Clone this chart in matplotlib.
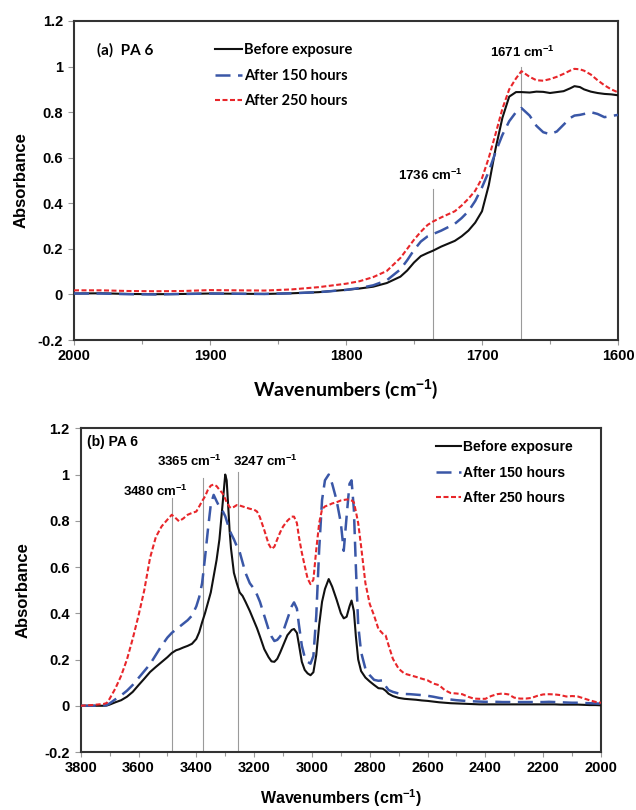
import matplotlib
matplotlib.use("Agg")
import matplotlib.pyplot as plt
from matplotlib.ticker import MultipleLocator, FuncFormatter

plt.rcParams['font.family'] = ['Liberation Sans', 'DejaVu Sans']
plt.rcParams['font.weight'] = 'bold'
plt.rcParams['axes.unicode_minus'] = False
plt.rcParams['mathtext.fontset'] = 'custom'
plt.rcParams['mathtext.rm'] = 'Liberation Sans:bold'
plt.rcParams['mathtext.it'] = 'Liberation Sans:bold'
plt.rcParams['mathtext.bf'] = 'Liberation Sans:bold'
plt.rcParams['mathtext.default'] = 'rm'

# ---------------- data: panel (a) 2000-1600 cm-1 ----------------
wn_a = [2000, 1980, 1960, 1940, 1920, 1900, 1880, 1860, 1840, 1820, 1800, 1790, 1780,
        1770, 1760, 1755, 1750, 1745, 1740, 1736, 1730, 1720, 1715, 1710, 1705, 1700,
        1695, 1690, 1685, 1680, 1675, 1671, 1665, 1660, 1655, 1650, 1645, 1640, 1635,
        1632, 1628, 1625, 1620, 1615, 1610, 1605, 1600]
before_a = [0.004, 0.005, 0.002, 0.001, 0.002, 0.004, 0.003, 0.002, 0.005, 0.010, 0.020,
            0.026, 0.034, 0.050, 0.078, 0.105, 0.140, 0.168, 0.182, 0.192, 0.210, 0.235,
            0.255, 0.280, 0.315, 0.365, 0.480, 0.640, 0.775, 0.868, 0.888, 0.888, 0.886,
            0.890, 0.889, 0.884, 0.888, 0.892, 0.905, 0.914, 0.910, 0.900, 0.890, 0.884,
            0.880, 0.878, 0.874]
h150_a = [0.004, 0.004, 0.001, 0.000, 0.002, 0.004, 0.003, 0.002, 0.005, 0.010, 0.020,
          0.028, 0.040, 0.062, 0.110, 0.150, 0.195, 0.232, 0.255, 0.265, 0.280, 0.310,
          0.335, 0.365, 0.410, 0.470, 0.540, 0.625, 0.700, 0.760, 0.800, 0.818, 0.785,
          0.740, 0.712, 0.703, 0.715, 0.745, 0.775, 0.785, 0.788, 0.792, 0.800, 0.792,
          0.778, 0.783, 0.788]
h250_a = [0.018, 0.018, 0.015, 0.014, 0.015, 0.019, 0.018, 0.017, 0.022, 0.032, 0.047,
          0.058, 0.076, 0.103, 0.160, 0.200, 0.240, 0.275, 0.305, 0.320, 0.338, 0.365,
          0.390, 0.420, 0.455, 0.510, 0.600, 0.705, 0.815, 0.900, 0.948, 0.980, 0.955,
          0.940, 0.938, 0.945, 0.955, 0.968, 0.983, 0.990, 0.988, 0.982, 0.965, 0.940,
          0.918, 0.900, 0.887]

# ---------------- data: panel (b) 3800-2000 cm-1 ----------------
wn_b = [3800, 3760, 3720, 3710, 3700, 3680, 3660, 3640, 3620, 3600, 3580, 3560, 3540,
        3520, 3500, 3485, 3470, 3460, 3445, 3430, 3415, 3400, 3390, 3380, 3370, 3360,
        3350, 3340, 3330, 3320, 3310, 3300, 3295, 3290, 3285, 3280, 3270, 3260, 3250,
        3240, 3230, 3215, 3200, 3190, 3180, 3165, 3150, 3140, 3130, 3120, 3110, 3100,
        3085, 3070, 3062, 3052, 3045, 3035, 3025, 3015, 3005, 2995, 2985, 2975, 2965,
        2955, 2942, 2930, 2915, 2900, 2890, 2880, 2870, 2863, 2855, 2848, 2840, 2830,
        2815, 2800, 2785, 2770, 2755, 2745, 2735, 2720, 2700, 2680, 2660, 2640, 2620,
        2600, 2580, 2560, 2540, 2520, 2500, 2480, 2460, 2440, 2420, 2400, 2380, 2360,
        2340, 2320, 2300, 2280, 2260, 2240, 2220, 2200, 2180, 2160, 2140, 2120, 2100,
        2080, 2060, 2040, 2020, 2000]
before_b = [0.000, 0.000, 0.000, 0.001, 0.005, 0.015, 0.024, 0.039, 0.060, 0.089, 0.117,
            0.146, 0.168, 0.189, 0.210, 0.228, 0.240, 0.244, 0.252, 0.259, 0.268, 0.289,
            0.318, 0.361, 0.400, 0.445, 0.490, 0.560, 0.630, 0.720, 0.860, 1.000, 0.975,
            0.870, 0.760, 0.680, 0.575, 0.530, 0.490, 0.475, 0.450, 0.410, 0.365, 0.335,
            0.300, 0.245, 0.210, 0.192, 0.190, 0.203, 0.230, 0.260, 0.305, 0.328, 0.332,
            0.315, 0.265, 0.190, 0.155, 0.140, 0.132, 0.145, 0.220, 0.350, 0.450, 0.505,
            0.548, 0.515, 0.460, 0.400, 0.378, 0.385, 0.430, 0.455, 0.410, 0.300, 0.200,
            0.150, 0.122, 0.105, 0.090, 0.076, 0.074, 0.065, 0.052, 0.042, 0.034, 0.030,
            0.028, 0.026, 0.023, 0.021, 0.018, 0.015, 0.013, 0.011, 0.010, 0.009, 0.008,
            0.007, 0.006, 0.006, 0.006, 0.006, 0.006, 0.006, 0.006, 0.006, 0.006, 0.006,
            0.006, 0.006, 0.006, 0.006, 0.005, 0.005, 0.005, 0.005, 0.004, 0.003, 0.003,
            0.002]
h150_b = [0.000, 0.000, 0.001, 0.003, 0.010, 0.028, 0.045, 0.065, 0.090, 0.120, 0.150,
          0.180, 0.220, 0.260, 0.295, 0.315, 0.330, 0.340, 0.355, 0.370, 0.390, 0.430,
          0.470, 0.530, 0.640, 0.760, 0.870, 0.912, 0.885, 0.860, 0.845, 0.820, 0.800,
          0.780, 0.765, 0.745, 0.720, 0.690, 0.665, 0.620, 0.575, 0.530, 0.505, 0.480,
          0.450, 0.390, 0.330, 0.300, 0.280, 0.285, 0.300, 0.320, 0.375, 0.430, 0.447,
          0.420, 0.350, 0.260, 0.210, 0.190, 0.182, 0.215, 0.390, 0.676, 0.890, 0.975,
          1.000, 0.960, 0.890, 0.790, 0.670, 0.820, 0.960, 0.975, 0.850, 0.600, 0.350,
          0.232, 0.160, 0.132, 0.112, 0.108, 0.110, 0.085, 0.068, 0.060, 0.053, 0.051,
          0.050, 0.048, 0.046, 0.043, 0.039, 0.034, 0.030, 0.027, 0.024, 0.022, 0.020,
          0.019, 0.018, 0.017, 0.017, 0.017, 0.016, 0.016, 0.016, 0.016, 0.016, 0.016,
          0.016, 0.016, 0.017, 0.016, 0.015, 0.014, 0.013, 0.013, 0.012, 0.011, 0.010,
          0.009]
h250_b = [0.000, 0.003, 0.008, 0.012, 0.030, 0.075, 0.130, 0.200, 0.290, 0.390, 0.500,
          0.640, 0.730, 0.776, 0.805, 0.826, 0.810, 0.798, 0.810, 0.826, 0.834, 0.840,
          0.862, 0.885, 0.905, 0.934, 0.952, 0.957, 0.950, 0.934, 0.920, 0.895, 0.880,
          0.870, 0.860, 0.855, 0.860, 0.868, 0.866, 0.862, 0.858, 0.852, 0.848, 0.840,
          0.815, 0.760, 0.700, 0.678, 0.688, 0.720, 0.750, 0.775, 0.800, 0.818, 0.818,
          0.790, 0.730, 0.662, 0.605, 0.550, 0.526, 0.545, 0.676, 0.790, 0.850, 0.862,
          0.868, 0.875, 0.880, 0.888, 0.890, 0.892, 0.892, 0.888, 0.880, 0.840, 0.790,
          0.690, 0.530, 0.440, 0.390, 0.332, 0.312, 0.304, 0.262, 0.203, 0.160, 0.139,
          0.132, 0.125, 0.117, 0.110, 0.096, 0.089, 0.067, 0.055, 0.053, 0.050, 0.039,
          0.031, 0.030, 0.030, 0.042, 0.050, 0.053, 0.049, 0.035, 0.031, 0.031, 0.034,
          0.043, 0.049, 0.050, 0.049, 0.046, 0.040, 0.042, 0.040, 0.032, 0.024, 0.017,
          0.013]

labels = ["Before exposure", "After 150 hours", "After 250 hours"]

# marker lines (position, top) and annotation texts
vlines_a = [1736, 1671]
vtops_a = [0.463, 1.0]
ann_a = ["1736 cm$^{-1}$", "1671 cm$^{-1}$"]
ann_a_pos = [(1738, 0.522), (1670, 1.063)]

vlines_b = [3483, 3376, 3256]
vtops_b = [0.898, 0.984, 1.012]
ann_b = ["3480 cm$^{-1}$", "3365 cm$^{-1}$", "3247 cm$^{-1}$"]
ann_b_pos = [(3540, 0.927), (3423, 1.056), (3161, 1.056)]

# ---------------- styles ----------------
C_BLACK = "#111111"
C_BLUE = "#3A57A7"
C_RED = "#E8262A"
styles = [
    dict(color=C_BLACK, lw=1.5, ls='-'),
    dict(color=C_BLUE, lw=1.8, ls=(0, (6, 3))),
    dict(color=C_RED, lw=1.5, ls=(0, (2.4, 1.2))),
]
TICKFONT = dict(family='Liberation Sans', weight='bold', size=10.5)

fig = plt.figure(figsize=(6.36, 8.10), dpi=100)
ax1 = fig.add_axes([74 / 636, 1 - 340 / 810, 544 / 636, 319 / 810])
ax2 = fig.add_axes([80.7 / 636, 1 - 752 / 810, 520.3 / 636, 323.7 / 810])


def fmt(v, pos):
    return ('%g' % round(v, 2))


def style_axes(ax, xlim, xmaj, xmin):
    ax.set_xlim(*xlim)
    ax.set_ylim(-0.2, 1.2)
    ax.yaxis.set_major_locator(MultipleLocator(0.2))
    ax.xaxis.set_major_locator(MultipleLocator(xmaj))
    ax.xaxis.set_minor_locator(MultipleLocator(xmin))
    ax.yaxis.set_major_formatter(FuncFormatter(fmt))
    ax.xaxis.set_major_formatter(FuncFormatter(fmt))
    for s in ax.spines.values():
        s.set_linewidth(1.5)
        s.set_color('#333333')
    ax.tick_params(axis='both', which='both', direction='out', color='#999999',
                   width=0.8, labelcolor='black')
    ax.tick_params(axis='y', length=4, pad=4)
    ax.tick_params(axis='x', which='major', length=3.5, pad=3)
    ax.tick_params(axis='x', which='minor', length=3)
    for lab in ax.get_xticklabels() + ax.get_yticklabels():
        lab.set_fontproperties(matplotlib.font_manager.FontProperties(**TICKFONT))


# ---------------- panel (a) ----------------
style_axes(ax1, (2000, 1600), 100, 50)
for x, t in zip(vlines_a, vtops_a):
    ax1.plot([x, x], [-0.2, t], color='#9a9a9a', lw=0.8, zorder=1)
series_a = [before_a, h150_a, h250_a]
handles_a = []
for ys, st, lab in zip(series_a, styles, labels):
    h, = ax1.plot(wn_a, ys, label=lab, zorder=3, **st)
    handles_a.append(h)
for txt, (x, y) in zip(ann_a, ann_a_pos):
    ax1.text(x, y, txt, ha='center', va='center', fontsize=9.5, fontweight='bold')
ax1.text(1983, 1.07, "(a)  PA 6", ha='left', va='center', fontsize=11,
         family=['Lato', 'DejaVu Sans'], fontweight='bold')
ax1.legend(handles=handles_a, loc='upper left', bbox_to_anchor=(0.26, 0.93),
           frameon=False, borderpad=0, borderaxespad=0, handlelength=1.8,
           handletextpad=0.15, labelspacing=0.78,
           prop=dict(family='Lato', weight='bold', size=10.5))
ax1.set_ylabel("Absorbance", fontsize=12, fontweight='bold', labelpad=6)
ax1.set_xlabel("Wavenumbers (cm$^{-1}$)", fontsize=14, fontweight='bold',
               family=['Lato', 'DejaVu Sans'], labelpad=10)

# ---------------- panel (b) ----------------
style_axes(ax2, (3800, 2000), 200, 100)
for x, t in zip(vlines_b, vtops_b):
    ax2.plot([x, x], [-0.2, t], color='#9a9a9a', lw=0.8, zorder=1)
series_b = [before_b, h150_b, h250_b]
handles_b = []
for ys, st, lab in zip(series_b, styles, labels):
    h, = ax2.plot(wn_b, ys, label=lab, zorder=3, **st)
    handles_b.append(h)
for txt, (x, y) in zip(ann_b, ann_b_pos):
    ax2.text(x, y, txt, ha='center', va='center', fontsize=9.5, fontweight='bold')
ax2.text(3779, 1.142, "(b) PA 6", ha='left', va='center', fontsize=10,
         fontweight='bold')
ax2.legend(handles=handles_b, loc='upper left', bbox_to_anchor=(0.682, 0.964),
           frameon=False, borderpad=0, borderaxespad=0, handlelength=1.8,
           handletextpad=0.15, labelspacing=0.84,
           prop=dict(family='Liberation Sans', weight='bold', size=10))
ax2.set_ylabel("Absorbance", fontsize=12, fontweight='bold', labelpad=10)
ax2.set_xlabel("Wavenumbers (cm$^{-1}$)", fontsize=11.5, fontweight='bold', labelpad=9)

fig.savefig("out.png", dpi=100)
